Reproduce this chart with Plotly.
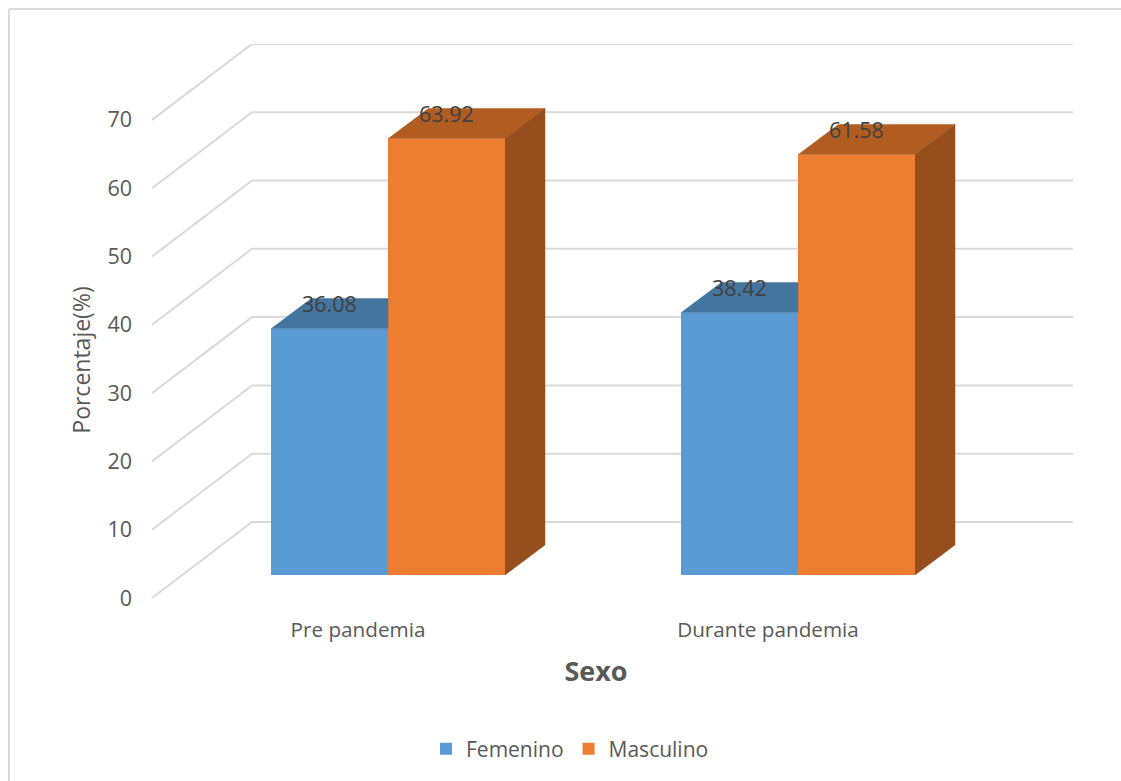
import numpy as np
import plotly.graph_objects as go

categories = ["Pre pandemia", "Durante pandemia"]
femenino = [36.08, 38.42]
masculino = [63.92, 61.58]
axis_ticks = [0, 10, 20, 30, 40, 50, 60, 70]

W, H = 1121, 781
PLOT_L, PLOT_R, PLOT_T, PLOT_B = 119, 1073, 44, 676
X_UNIT = 410.0          # pixels between categories
Y_UNIT = 6.83           # pixels per percentage point
X_CENTER = 388.0        # pixel centre of the first category
WALL_ZERO = 598.0       # pixel of value 0 on the front of the side wall
BAR_ZERO = 575.0        # pixel of value 0 on the front of the bars
BAR_WIDTH = 117 / X_UNIT
DEPTH_X, DEPTH_Y = 40 / X_UNIT, 30 / Y_UNIT
WALL_DX, WALL_DY = 100 / X_UNIT, 76 / Y_UNIT

TEXT = "#595959"
GRID = "#D9D9D9"
FONT = "Open Sans"
BLUE, BLUE_TOP = "#5B9BD5", "#44759F"
ORANGE, ORANGE_TOP, ORANGE_SIDE = "#ED7D31", "#B15D22", "#964F1C"

x_of = lambda px: (px - X_CENTER) / X_UNIT
xs = np.arange(len(categories), dtype=float)

fig = go.Figure()

# Floor and back wall lines, drawn on the lower axis so the bars cover them
wall_x, wall_y = [], []
for v in axis_ticks:
    wall_x += [x_of(152), x_of(152) + WALL_DX, x_of(PLOT_R), None]
    wall_y += [v, v + WALL_DY, v + WALL_DY, None]
fig.add_trace(go.Scatter(x=wall_x, y=wall_y, mode="lines", yaxis="y",
                         line=dict(color=GRID, width=2),
                         showlegend=False, hoverinfo="skip"))

# Front faces
fig.add_trace(go.Bar(x=xs, y=femenino, name="Femenino", yaxis="y2",
                     marker=dict(color=BLUE, line_width=0), hoverinfo="skip"))
fig.add_trace(go.Bar(x=xs, y=masculino, name="Masculino", yaxis="y2",
                     marker=dict(color=ORANGE, line_width=0), hoverinfo="skip"))


def face(px, py, color):
    fig.add_trace(go.Scatter(x=px, y=py, mode="lines", fill="toself", yaxis="y2",
                             fillcolor=color, line=dict(color=color, width=0.5),
                             showlegend=False, hoverinfo="skip"))


# Top and side faces, projected back from each bar's front edge
for c, fv, mv in zip(xs, femenino, masculino):
    # Femenino top stops where the Masculino bar begins
    face([c - BAR_WIDTH, c, c, c - BAR_WIDTH + DEPTH_X],
         [fv, fv, fv + DEPTH_Y, fv + DEPTH_Y], BLUE_TOP)
    face([c, c + BAR_WIDTH, c + BAR_WIDTH + DEPTH_X, c + DEPTH_X],
         [mv, mv, mv + DEPTH_Y, mv + DEPTH_Y], ORANGE_TOP)
    face([c + BAR_WIDTH, c + BAR_WIDTH + DEPTH_X, c + BAR_WIDTH + DEPTH_X, c + BAR_WIDTH],
         [0, DEPTH_Y, mv + DEPTH_Y, mv], ORANGE_SIDE)

# Value labels sit above the front edge of each bar
annotations = []
for c, fv, mv in zip(xs, femenino, masculino):
    for xpos, val in ((c - BAR_WIDTH / 2, fv), (c + BAR_WIDTH / 2, mv)):
        annotations.append(dict(x=xpos, y=val, xref="x", yref="y2", text=f"{val:.2f}",
                                showarrow=False, yshift=25,
                                font=dict(family=FONT, size=21.5, color="#404040")))

plot_w = PLOT_R - PLOT_L
plot_h = PLOT_B - PLOT_T
border = dict(type="line", xref="paper", yref="paper",
              line=dict(color=GRID, width=2), layer="below")
top_edge = 1 + (PLOT_T - 9) / plot_h
left_edge = (9 - PLOT_L) / plot_w

fig.update_layout(
    width=W, height=H,
    margin=dict(l=PLOT_L, r=W - PLOT_R, t=PLOT_T, b=H - PLOT_B, autoexpand=False),
    paper_bgcolor="white", plot_bgcolor="rgba(0,0,0,0)",
    barmode="group", bargap=1 - 2 * BAR_WIDTH, bargroupgap=0,
    font=dict(family=FONT, size=20, color=TEXT),
    xaxis=dict(range=[x_of(PLOT_L), x_of(PLOT_R)], anchor="free",
               position=(PLOT_B - BAR_ZERO) / plot_h,
               tickvals=list(xs), ticktext=categories, ticks="",
               tickfont=dict(family=FONT, size=20.7, color=TEXT),
               ticklabelshift=-30, ticklabelstandoff=40,
               showgrid=False, zeroline=False, showline=False,
               title=dict(text="<b>Sexo</b>", font=dict(family=FONT, size=27, color=TEXT),
                          standoff=20)),
    yaxis=dict(range=[(WALL_ZERO - PLOT_B) / Y_UNIT, (WALL_ZERO - PLOT_T) / Y_UNIT],
               anchor="free", position=(152 - PLOT_L) / plot_w,
               tickvals=axis_ticks, ticks="", ticklabelstandoff=20,
               tickfont=dict(family=FONT, size=21.5, color=TEXT),
               showgrid=False, zeroline=False, showline=False,
               title=dict(text="Porcentaje(%)", font=dict(family=FONT, size=23, color=TEXT),
                          standoff=9)),
    yaxis2=dict(range=[(BAR_ZERO - PLOT_B) / Y_UNIT, (BAR_ZERO - PLOT_T) / Y_UNIT],
                overlaying="y", visible=False),
    legend=dict(orientation="h", x=(570 - PLOT_L) / plot_w, xanchor="center",
                y=(PLOT_B - 749) / plot_h, yanchor="middle",
                font=dict(family=FONT, size=21, color=TEXT),
                bgcolor="rgba(0,0,0,0)"),
    annotations=annotations,
    shapes=[
        dict(border, x0=left_edge, x1=(W - PLOT_L) / plot_w, y0=top_edge, y1=top_edge),
        dict(border, x0=left_edge, x1=left_edge, y0=top_edge, y1=(PLOT_B - H) / plot_h),
    ],
)

fig.write_html("out.html")
